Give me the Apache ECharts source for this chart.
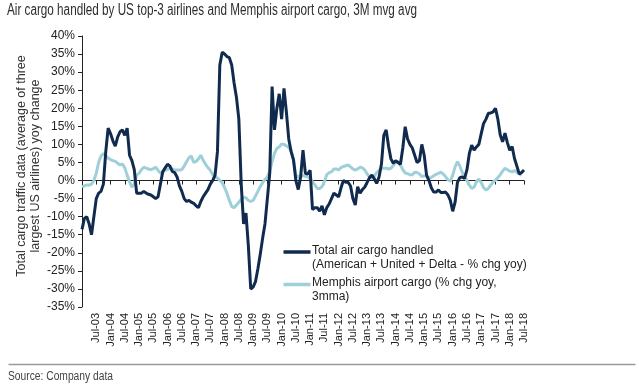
<!DOCTYPE html>
<html><head><meta charset="utf-8">
<script src="https://cdn.jsdelivr.net/npm/echarts@6/dist/echarts.min.js"></script>
<style>html,body{margin:0;padding:0;background:#fff}#c{width:639px;height:388px}</style>
</head><body><div id="c"></div>
<script>
const monthNames = ['Jan','Feb','Mar','Apr','May','Jun','Jul','Aug','Sep','Oct','Nov','Dec'];
const startYear = 2003;
const monthCount = 187; // Jan-03 .. Jul-18
const categories = [];
for (let i = 0; i < monthCount; i++) {
  const y = startYear + Math.floor(i / 12);
  categories.push(monthNames[i % 12] + '-' + String(y % 100).padStart(2, '0'));
}

const totalAirCargo = [
  -13.5, -10.5, -10, -12, -15, -10, -5, -3.5, -3, -1,
  8, 14.5, 13, 11, 9.5, 12, 13.5, 14, 12.5, 14.5,
  7, 5.5, 3, -3.5, -3.5, -3.5, -3, -3.5, -3.8, -4,
  -4.5, -5, -4.5, -1, 2.5, 3.5, 4.5, 4, 2.5, 2.2,
  1, -1.5, -3, -5, -5.8, -5.5, -6, -6.3, -7, -7.5,
  -5.8, -4.5, -3.5, -2.5, -1, 0, 1.5, 8, 32, 35.5,
  35, 34.3, 34, 32, 27, 23, 17, -1, -12, -9,
  -18, -30, -29.5, -28, -24.5, -20.5, -16, -12, -5, 2,
  26, 14, 20, 24, 17, 25.5, 19, 11.5, 8, 5.7,
  0, -2.5, 1, 8.4, 2, 1.8, 2.8, -8, -7.5, -7.5,
  -8.5, -7, -9.5, -7.5, -6.5, -5, -3.5, -4, -4.5, -2,
  0, -0.5, -0.5, -1.5, -5, -6.8, -1.7, -3.5, -2.5, -1.8,
  -0.5, 0.8, 1.5, 0.5, -0.8, 1, 4.5, 12.5, 14, 9.5,
  6, 4.8, 5.5, 5, 4.5, 9, 14.9, 11.5, 10, 9,
  7, 5, 5.5, 10, 7, 1.5, 0, -2, -3.2, -3.2,
  -2.6, -3.3, -3.3, -3.2, -4, -5.5, -8.5, -6, -0.5, 0.8,
  1, 0.6, 3, 7.5, 9.8, 8.4, 9.3, 10, 13, 15.8,
  17, 18.6, 18.7, 19, 20, 17, 12.6, 10.7, 13.1, 10.5,
  8.4, 9.4, 6.1, 4, 1.8, 2.2, 2.9
];

const memphisCargo = [
  -1.7, -1.5, -1.2, -1.3, -1, 0, 2, 5, 6.8, 7.5,
  6.8, 6.2, 5.8, 5.5, 5.3, 4.8, 4.3, 4.6, 3.5, 1.5,
  -0.3, -1.8, -1, 1.5, 2, 3, 3.7, 3.4, 3.2, 3,
  3.3, 3.7, 2.8, 2.1, 2.3, 2.8, 3.1, 3.4, 3.2, 2.9,
  2.9, 2.9, 3, 4, 5.2, 6.3, 6.8, 5, 5.3, 6,
  7, 5.6, 4.5, 3.6, 2.8, 1.7, 1, 0.7, 0, -0.6,
  -2, -3.5, -5.5, -7.2, -7.5, -6.8, -6, -5.2, -4.6, -4.8,
  -5.5, -5.8, -5.5, -4.3, -3, -1.7, -0.6, 0.3, 1, 2.6,
  5.2, 7.5, 8.9, 9.3, 10.1, 10, 9.6, 9.1, 8.2, 5.7,
  1.5, 1, 1.3, 1.4, 1.2, 1, 0.5, -0.4, -1.2, -2.2,
  -2.2, -1.7, -0.3, 1.6, 2.2, 2.4, 3.2, 3.2, 2.9, 3.6,
  3.9, 4.1, 4.3, 3.8, 3.2, 2.9, 3.2, 3.7, 3.5, 2.9,
  1.8, 1, 0.6, 1.2, 2.2, 2.8, 3.4, 3.4, 3.4, 3.2,
  3.4, 4.2, 5, 5.2, 4.3, 3, 2.1, 1.9, 1.6, 1.6,
  2.3, 2.2, 1.8, 1.1, 1.3, 1.2, 0.6, 0.9, 1.3, 1.7,
  2, 2.3, 1.8, 1.1, 0.2, -0.2, 1.5, 3.8, 5.2, 4,
  2.3, 1.1, 0, -1.3, -2.2, -1.8, -0.3, 0.4, -0.6, -2,
  -2.6, -2.2, -1.3, -0.4, 0.1, 0.8, 1.6, 2.6, 3.4, 3,
  2.6, 2.4, 2.8, 2.3, 1.9, 1.5, null
];

const yMin = -35, yMax = 40, yStep = 5;
const seriesNames = ['Total air cargo handled', 'Memphis airport cargo'];
const legendLines = [
  ['Total air cargo handled', '(American + United + Delta - % chg yoy)'],
  ['Memphis airport cargo (% chg yoy,', '3mma)']
];
const titleText = 'Air cargo handled by US top-3 airlines and Memphis airport cargo, 3M mvg avg';
const yAxisNameLines = ['Total cargo traffic data (average of three', 'largest US airlines) yoy change'];
const sourceText = 'Source: Company data';

const darkColor = '#112b4e';
const lightColor = '#9fd0d9';
const baseFont = '"Liberation Sans", Arial, sans-serif';

// condensed look for title/source text: horizontal scale so the text fits the reference width
function fitScale(text, font, targetWidth) {
  const ctx = document.createElement('canvas').getContext('2d');
  ctx.font = font;
  const w = ctx.measureText(text).width;
  return w > 0 ? targetWidth / w : 1;
}
const titleScale = fitScale(titleText, '16px "Liberation Sans"', 410);
const sourceScale = fitScale(sourceText, '12px "Liberation Sans"', 105);

const showHalfYear = (idx) => idx > 0 && idx % 6 === 0;

const chart = echarts.init(document.getElementById('c'), null, {renderer: 'canvas'});
chart.setOption({
  backgroundColor: '#ffffff',
  animation: false,
  grid: {left: 82, right: 115, top: 36, bottom: 81, containLabel: false},
  xAxis: [
    {
      type: 'category', data: categories, boundaryGap: false, position: 'bottom',
      axisLine: {show: false, onZero: false}, axisTick: {show: false},
      axisLabel: {
        rotate: 90, margin: 6, interval: (idx) => showHalfYear(idx),
        fontFamily: baseFont, fontSize: 11, color: '#222'
      },
      splitLine: {show: false}
    },
    {
      type: 'category', data: categories, boundaryGap: false, position: 'top',
      axisLine: {show: true, onZero: true, lineStyle: {color: '#222', width: 1}},
      axisTick: {show: true, inside: true, length: 4, interval: (idx) => showHalfYear(idx), lineStyle: {color: '#222'}},
      axisLabel: {show: false},
      splitLine: {show: false}
    }
  ],
  yAxis: {
    type: 'value', min: yMin, max: yMax, interval: yStep,
    axisLine: {show: true, lineStyle: {color: '#222', width: 1}},
    axisTick: {show: true, inside: false, length: 4, lineStyle: {color: '#222'}},
    axisLabel: {formatter: '{value}%', fontFamily: baseFont, fontSize: 12, color: '#222', margin: 7},
    splitLine: {show: false}
  },
  series: [
    {
      name: seriesNames[1], type: 'line', data: memphisCargo, xAxisIndex: 0,
      showSymbol: false, symbol: 'none', smooth: false,
      lineStyle: {color: lightColor, width: 3}, z: 2
    },
    {
      name: seriesNames[0], type: 'line', data: totalAirCargo, xAxisIndex: 0,
      showSymbol: false, symbol: 'none', smooth: false,
      lineStyle: {color: darkColor, width: 3}, z: 3
    }
  ],
  graphic: [
    {type: 'text', x: 7, y: 3, scaleX: titleScale, originX: 0,
     style: {text: titleText, fontFamily: baseFont, fontSize: 16, fill: '#2e2e2e'}},
    {type: 'text', x: 28.5, y: 166, rotation: Math.PI / 2,
     style: {text: yAxisNameLines.join('\n'), fontFamily: baseFont, fontSize: 12.5, lineHeight: 13.4,
             align: 'center', verticalAlign: 'middle', fill: '#333'}},
    {type: 'line', left: 281, top: 249.5, shape: {x1: 0, y1: 0, x2: 27, y2: 0}, style: {stroke: darkColor, lineWidth: 3.5}},
    {type: 'text', left: 312, top: 244, style: {text: legendLines[0].join('\n'), fontFamily: baseFont, fontSize: 12, lineHeight: 14, fill: '#222'}},
    {type: 'line', left: 281, top: 282, shape: {x1: 0, y1: 0, x2: 27, y2: 0}, style: {stroke: lightColor, lineWidth: 3.5}},
    {type: 'text', left: 312, top: 276, style: {text: legendLines[1].join('\n'), fontFamily: baseFont, fontSize: 12, lineHeight: 14, fill: '#222'}},
    {type: 'line', left: 6, top: 362, shape: {x1: 0, y1: 0, x2: 627, y2: 0}, style: {stroke: '#9a9a9a', lineWidth: 1.5}},
    {type: 'text', x: 8, y: 371, scaleX: sourceScale, originX: 0,
     style: {text: sourceText, fontFamily: baseFont, fontSize: 12, fill: '#444'}}
  ]
});
</script>
</body></html>
